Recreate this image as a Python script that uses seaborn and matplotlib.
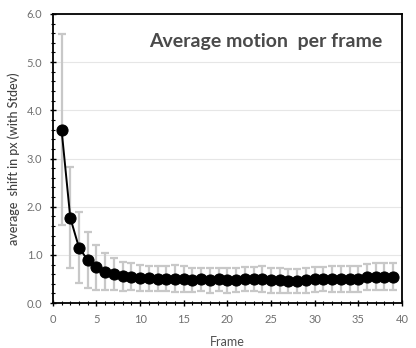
import numpy as np
import pandas as pd
import matplotlib
matplotlib.use("Agg")
import matplotlib.pyplot as plt
import seaborn as sns
from matplotlib.ticker import MultipleLocator, FormatStrFormatter

# ----- data -----
frames = list(range(1, 40))
mean_shift = [3.60, 1.77, 1.15, 0.89, 0.74, 0.65, 0.60, 0.56, 0.55, 0.53,
              0.52, 0.51, 0.51, 0.51, 0.50, 0.48, 0.49, 0.47, 0.49, 0.47,
              0.48, 0.50, 0.50, 0.50, 0.47, 0.47, 0.45, 0.46, 0.47, 0.49,
              0.50, 0.50, 0.50, 0.50, 0.50, 0.55, 0.55, 0.55, 0.55]
stdev = [1.98, 1.05, 0.74, 0.58, 0.47, 0.38, 0.33, 0.30, 0.28, 0.27,
         0.26, 0.26, 0.26, 0.28, 0.26, 0.25, 0.24, 0.25, 0.24, 0.25,
         0.25, 0.25, 0.25, 0.26, 0.25, 0.25, 0.25, 0.25, 0.25, 0.25,
         0.25, 0.26, 0.27, 0.27, 0.27, 0.27, 0.28, 0.28, 0.28]

df = pd.DataFrame({"frame": frames, "shift": mean_shift, "sd": stdev})

sns.set_style("white")
plt.rcParams["font.family"] = ["Lato", "DejaVu Sans"]

fig = plt.figure(figsize=(4.16, 3.48), dpi=100)
ax = fig.add_axes([0.127, 0.129, 0.839, 0.831])

# error bars in light grey
ax.errorbar(df["frame"], df["shift"], yerr=df["sd"], fmt="none",
            ecolor="#c8c8c8", elinewidth=1.6, capsize=3, capthick=1.6, zorder=2)
sns.lineplot(data=df, x="frame", y="shift", ax=ax, color="black", lw=1.4,
             marker="o", markersize=8, markeredgecolor="black", zorder=3)

ax.set_xlim(0, 40)
ax.set_ylim(0, 6)
ax.xaxis.set_major_locator(MultipleLocator(5))
ax.xaxis.set_minor_locator(MultipleLocator(1))
ax.yaxis.set_major_locator(MultipleLocator(1))
ax.yaxis.set_minor_locator(MultipleLocator(0.2))
ax.yaxis.set_major_formatter(FormatStrFormatter("%.1f"))
ax.yaxis.grid(True, color="#e6e6e6", lw=0.8)
ax.set_axisbelow(True)

ax.tick_params(which="both", direction="inout", color="black", labelcolor="#707070",
               labelsize=8, bottom=True, left=True)
ax.tick_params(which="major", length=5, width=1, pad=5)
ax.tick_params(which="minor", length=3.5, width=0.8)
for s in ax.spines.values():
    s.set_color("black")
    s.set_linewidth(1.3)

ax.set_xlabel("Frame", fontsize=9, color="#505050", labelpad=8)
ax.set_ylabel("average  shift in px (with Stdev)", fontsize=9, color="#404040",
              fontweight="medium", labelpad=5)
ax.text(0.944, 0.905, "Average motion  per frame", transform=ax.transAxes,
        ha="right", va="center", fontsize=14, fontweight="bold", color="#4a4a4a")

fig.savefig("out.png", dpi=100)
